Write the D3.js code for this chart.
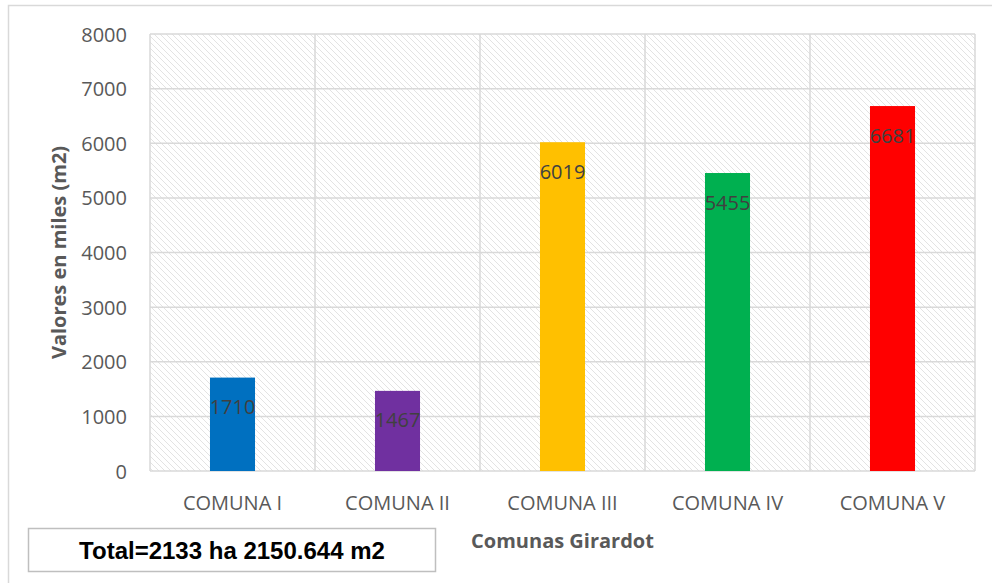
<!DOCTYPE html>
<html>
<head>
<meta charset="utf-8">
<script src="https://cdn.jsdelivr.net/npm/d3@7"></script>
<style>
  body { margin: 0; background: #fff; }
  svg { display: block; }
</style>
</head>
<body>
<svg class="chart"></svg>
<script>
/*Chart data*/
const categories = ["COMUNA I", "COMUNA II", "COMUNA III", "COMUNA IV", "COMUNA V"]
const values = [1710, 1467, 6019, 5455, 6681]
const barColors = ["#0070C0", "#7030A0", "#FFC000", "#00B050", "#FF0000"]
const yTicks = [0, 1000, 2000, 3000, 4000, 5000, 6000, 7000, 8000]
const yTitle = "Valores en miles (m2)"
const xTitle = "Comunas Girardot"
const totalNote = "Total=2133 ha 2150.644 m2"

const width = 992, height = 583
const plot = { left: 150, top: 34, right: 975, bottom: 471 }

var svg = d3.select(".chart")
    .attr("width", width)
    .attr("height", height)

/*Diagonal hatch for the plot background*/
var defs = svg.append("defs")
defs.append("pattern")
    .attr("id", "hatch")
    .attr("patternUnits", "userSpaceOnUse")
    .attr("width", 6)
    .attr("height", 6)
  .append("path")
    .attr("d", "M0,0 L6,6 M-1,5 L1,7 M5,-1 L7,1")
    .attr("stroke", "#e0e0e0")
    .attr("stroke-width", 0.9)

/*Outer chart border*/
svg.append("rect")
    .attr("x", 8.5).attr("y", 5.5)
    .attr("width", 1000).attr("height", 600)
    .attr("fill", "none")
    .attr("stroke", "#d9d9d9")
    .attr("stroke-width", 1.5)

var x = d3.scaleBand()
    .domain(categories)
    .range([plot.left, plot.right])
    .padding(0)

var y = d3.scaleLinear()
    .domain([0, 8000])
    .range([plot.bottom, plot.top])

var barWidth = x.bandwidth() * 0.273

/*Hatched plot area*/
svg.append("rect")
    .attr("x", plot.left).attr("y", plot.top)
    .attr("width", plot.right - plot.left)
    .attr("height", plot.bottom - plot.top)
    .attr("fill", "url(#hatch)")

/*Horizontal grid lines*/
svg.append("g")
  .selectAll("line")
  .data(yTicks)
  .enter()
  .append("line")
    .attr("x1", plot.left).attr("x2", plot.right)
    .attr("y1", d => y(d)).attr("y2", d => y(d))
    .attr("stroke", "#d9d9d9")
    .attr("stroke-width", 1.5)

/*Vertical grid lines at category boundaries*/
svg.append("g")
  .selectAll("line")
  .data(categories.concat([null]))
  .enter()
  .append("line")
    .attr("x1", d => d === null ? plot.right : x(d))
    .attr("x2", d => d === null ? plot.right : x(d))
    .attr("y1", plot.top).attr("y2", plot.bottom)
    .attr("stroke", "#d9d9d9")
    .attr("stroke-width", 1.5)

/*Bars*/
svg.append("g")
  .selectAll("rect")
  .data(values)
  .enter()
  .append("rect")
    .attr("x", (d, i) => x(categories[i]) + x.bandwidth() / 2 - barWidth / 2)
    .attr("y", d => y(d))
    .attr("width", barWidth)
    .attr("height", d => plot.bottom - y(d))
    .attr("fill", (d, i) => barColors[i])

/*Data labels inside the bars*/
svg.append("g")
  .selectAll("text")
  .data(values)
  .enter()
  .append("text")
    .attr("x", (d, i) => x(categories[i]) + x.bandwidth() / 2)
    .attr("y", d => y(d) + 29)
    .attr("text-anchor", "middle")
    .attr("dominant-baseline", "central")
    .attr("fill", "#404040")
    .style("font-family", "'Open Sans', sans-serif")
    .style("font-size", "20px")
    .text(d => d)

/*Y tick labels*/
svg.append("g")
  .selectAll("text")
  .data(yTicks)
  .enter()
  .append("text")
    .attr("x", 127)
    .attr("y", d => y(d))
    .attr("text-anchor", "end")
    .attr("dominant-baseline", "central")
    .attr("fill", "#595959")
    .style("font-family", "'Open Sans', sans-serif")
    .style("font-size", "20px")
    .text(d => d)

/*X tick labels*/
svg.append("g")
  .selectAll("text")
  .data(categories)
  .enter()
  .append("text")
    .attr("x", d => x(d) + x.bandwidth() / 2)
    .attr("y", 502)
    .attr("text-anchor", "middle")
    .attr("dominant-baseline", "central")
    .attr("fill", "#595959")
    .style("font-family", "'Open Sans', sans-serif")
    .style("font-size", "20px")
    .text(d => d)

/*Axis titles*/
svg.append("text")
    .attr("transform", "translate(58," + (plot.top + plot.bottom) / 2 + ") rotate(-90)")
    .attr("text-anchor", "middle")
    .attr("dominant-baseline", "central")
    .attr("fill", "#595959")
    .style("font-family", "'Open Sans', sans-serif")
    .style("font-weight", "bold")
    .style("font-size", "20px")
    .text(yTitle)

svg.append("text")
    .attr("x", (plot.left + plot.right) / 2)
    .attr("y", 540)
    .attr("text-anchor", "middle")
    .attr("dominant-baseline", "central")
    .attr("fill", "#595959")
    .style("font-family", "'Open Sans', sans-serif")
    .style("font-weight", "bold")
    .style("font-size", "20px")
    .text(xTitle)

/*Total note box*/
svg.append("rect")
    .attr("x", 28.5).attr("y", 528.5)
    .attr("width", 407).attr("height", 43)
    .attr("fill", "#fff")
    .attr("stroke", "#bfbfbf")
    .attr("stroke-width", 1.5)

svg.append("text")
    .attr("x", 232)
    .attr("y", 550)
    .attr("text-anchor", "middle")
    .attr("dominant-baseline", "central")
    .attr("fill", "#000")
    .style("font-family", "'Liberation Sans', Arial, sans-serif")
    .style("font-weight", "bold")
    .style("font-size", "24px")
    .text(totalNote)
</script>
</body>
</html>
